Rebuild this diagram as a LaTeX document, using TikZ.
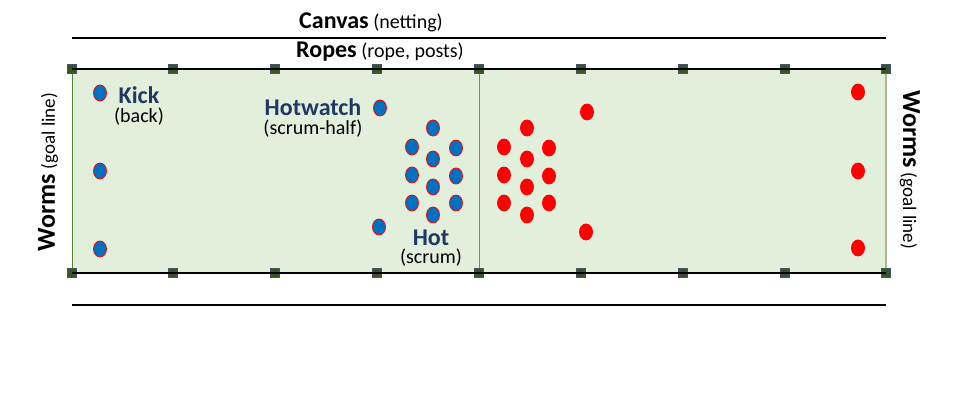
\documentclass[tikz,border=0pt]{standalone}
\usepackage{fontspec}
\setmainfont{Carlito}
\usetikzlibrary{shapes.geometric}
\definecolor{fieldgreen}{HTML}{E2EFDA}
\definecolor{postgreen}{HTML}{375623}
\definecolor{postedge}{HTML}{44546A}
\definecolor{labelnavy}{HTML}{1F3864}
\definecolor{blueteam}{HTML}{0070C0}
\definecolor{redteam}{HTML}{FF0000}
\definecolor{leftedge}{HTML}{548235}
\definecolor{rightedge}{HTML}{A9B88F}
\newcommand{\bigtext}{\fontsize{12}{14}\selectfont\bfseries}
\newcommand{\smalltext}{\fontsize{10}{12}\selectfont}
\tikzset{
  post/.style={draw=postedge, fill=postgreen, minimum size=4.5pt, inner sep=0pt},
  player/.style={ellipse, draw=redteam, line width=0.4pt, minimum width=6.5pt,
                 minimum height=8pt, inner sep=0pt},
  blueplayer/.style={player, fill=blueteam},
  redplayer/.style={player, fill=redteam},
  teamlabel/.style={text=labelnavy, font=\bigtext, inner sep=0pt},
  rolelabel/.style={font=\smalltext, inner sep=0pt},
  sideline/.style={line width=0.8pt},
}
\begin{document}
\begin{tikzpicture}[x=0.5pt, y=-0.5pt]
    \useasboundingbox (0,0) rectangle (960,411);
    % field
    \fill[fieldgreen] (72,69) rectangle (886,273);
    \draw[leftedge] (72,69) -- (72,273);
    \draw[rightedge, line width=0.8pt] (886,69) -- (886,273);
    \draw[gray] (479,69) -- (479,273);
    % canvas and ropes
    \node[inner sep=0pt] (canvas) at (371,22) {{\bigtext Canvas} {\smalltext(netting)}};
    \coordinate (cl) at (72,38);
    \coordinate (cr) at (886,38);
    \draw[sideline] (cl) -- (cr);
    \node[inner sep=0pt] (ropes) at (380,52) {{\bigtext Ropes} {\smalltext(rope, posts)}};
    \coordinate (gl) at (72,305);
    \coordinate (gr) at (886,305);
    \draw[sideline] (gl) -- (gr);
    % top posts
    \node[post] (t0) at (72,69) {};
    \node[post] (t1) at (173,69) {};
    \node[post] (t2) at (275,69) {};
    \node[post] (t3) at (377,69) {};
    \node[post] (t4) at (479,69) {};
    \node[post] (t5) at (581,69) {};
    \node[post] (t6) at (683,69) {};
    \node[post] (t7) at (785,69) {};
    \node[post] (t8) at (886,69) {};
    % bottom posts
    \node[post] (b0) at (72,273) {};
    \node[post] (b1) at (173,273) {};
    \node[post] (b2) at (275,273) {};
    \node[post] (b3) at (377,273) {};
    \node[post] (b4) at (479,273) {};
    \node[post] (b5) at (581,273) {};
    \node[post] (b6) at (683,273) {};
    \node[post] (b7) at (785,273) {};
    \node[post] (b8) at (886,273) {};
    \draw[sideline] (t0.center) -- (t8.center);
    \draw[sideline] (b0.center) -- (b8.center);
    % goal lines
    \node[rotate=90, inner sep=0pt] (wormsl) at (48,172) {{\fontsize{13}{15}\selectfont\bfseries Worms} {\fontsize{9.5}{11}\selectfont(goal line)}};
    \node[rotate=-90, inner sep=0pt] (wormsr) at (910,170) {{\fontsize{13}{15}\selectfont\bfseries Worms} {\fontsize{9.5}{11}\selectfont(goal line)}};
    % blue team
    \node[blueplayer] (kb1) at (100,93) {};
    \node[blueplayer] (kb2) at (100,171) {};
    \node[blueplayer] (kb3) at (100,249) {};
    \node[blueplayer] (hw1) at (380,108) {};
    \node[blueplayer] (hw2) at (379,227) {};
    \node[blueplayer] (bs1) at (412,147) {};
    \node[blueplayer] (bs2) at (412,175) {};
    \node[blueplayer] (bs3) at (412,203) {};
    \node[blueplayer] (bs4) at (433,128) {};
    \node[blueplayer] (bs5) at (433,159) {};
    \node[blueplayer] (bs6) at (433,187) {};
    \node[blueplayer] (bs7) at (433,215) {};
    \node[blueplayer] (bs8) at (456,148) {};
    \node[blueplayer] (bs9) at (456,176) {};
    \node[blueplayer] (bs10) at (456,203) {};
    % red team
    \node[redplayer] (rs1) at (504,147) {};
    \node[redplayer] (rs2) at (504,175) {};
    \node[redplayer] (rs3) at (504,203) {};
    \node[redplayer] (rs4) at (527,128) {};
    \node[redplayer] (rs5) at (527,159) {};
    \node[redplayer] (rs6) at (527,187) {};
    \node[redplayer] (rs7) at (527,215) {};
    \node[redplayer] (rs8) at (549,148) {};
    \node[redplayer] (rs9) at (549,176) {};
    \node[redplayer] (rs10) at (549,203) {};
    \node[redplayer] (rh1) at (587,112) {};
    \node[redplayer] (rh2) at (586,232) {};
    \node[redplayer] (rk1) at (858,92) {};
    \node[redplayer] (rk2) at (858,171) {};
    \node[redplayer] (rk3) at (858,248) {};
    % labels
    \node[teamlabel] (kick) at (139,95) {Kick};
    \node[rolelabel] (kickrole) at (139,117) {(back)};
    \node[teamlabel] (hotwatch) at (313,107) {Hotwatch};
    \node[rolelabel] (hotwatchrole) at (313,129) {(scrum-half)};
    \node[teamlabel] (hot) at (431,238) {Hot};
    \node[rolelabel] (hotrole) at (431,258) {(scrum)};
  \end{tikzpicture}
\end{document}
